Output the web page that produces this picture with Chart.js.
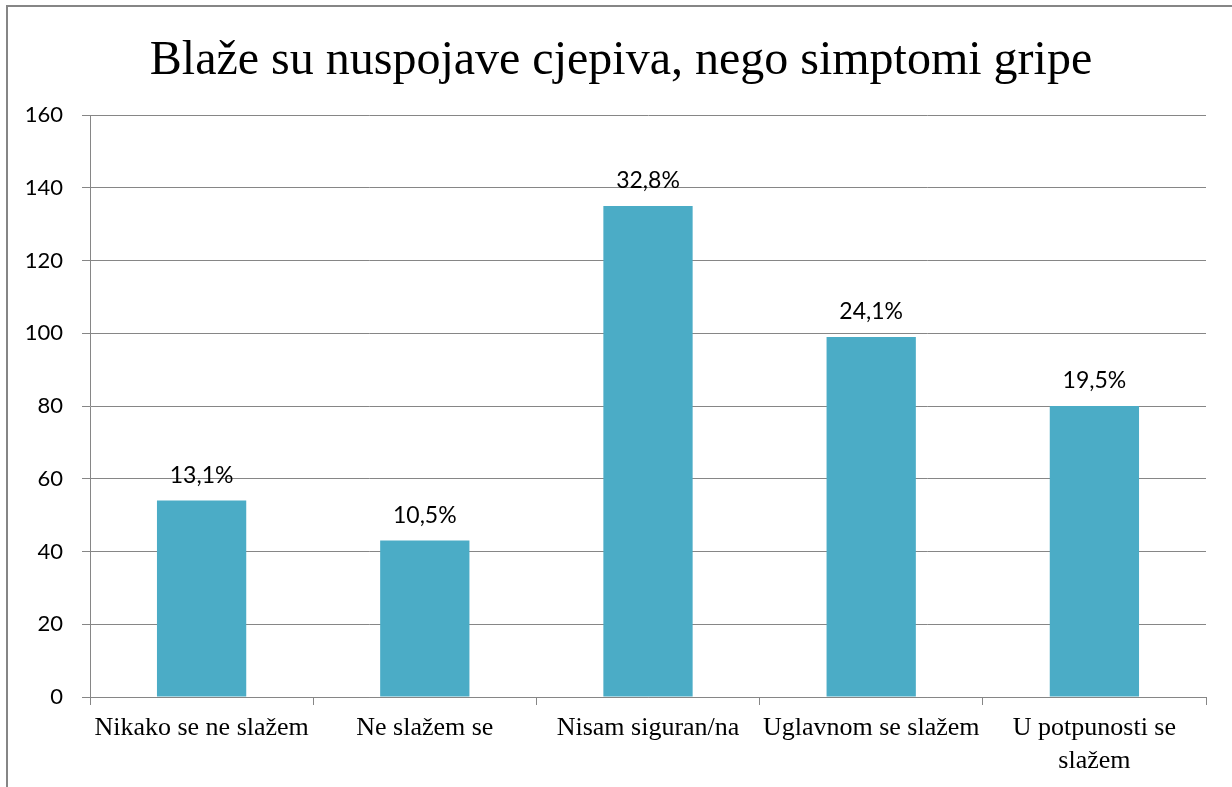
<!DOCTYPE html>
<html><head><meta charset="utf-8">
<script src="https://cdn.jsdelivr.net/npm/chart.js@4.4.1/dist/chart.umd.min.js"></script>
<style>html,body{margin:0;padding:0;background:#fff}#wrap{width:1232px;height:787px;position:relative}</style>
</head><body><div id="wrap"><canvas id="c" width="1232" height="787"></canvas></div>
<script>
const chartTitle = "Blaže su nuspojave cjepiva, nego simptomi gripe";
const categories = ["Nikako se ne slažem", "Ne slažem se", "Nisam siguran/na", "Uglavnom se slažem", ["U potpunosti se", "slažem"]];
const counts = [54, 43, 135, 99, 80];
const percentLabels = ["13,1%", "10,5%", "32,8%", "24,1%", "19,5%"];
const yTicks = [0, 20, 40, 60, 80, 100, 120, 140, 160];

const GRID = '#868686';
const decor = {
  id: 'decor',
  beforeDraw(chart) {
    const ctx = chart.ctx;
    ctx.save();
    ctx.fillStyle = '#fff';
    ctx.fillRect(0, 0, chart.width, chart.height);
    ctx.strokeStyle = '#868686';
    ctx.lineWidth = 2;
    ctx.strokeRect(7, 6, chart.width + 20, chart.height + 20);
    ctx.fillStyle = '#000';
    ctx.font = '48px "Liberation Serif"';
    ctx.textAlign = 'center';
    ctx.textBaseline = 'alphabetic';
    ctx.fillText(chartTitle, 621, 74);
    ctx.restore();
  },
  afterDatasetsDraw(chart) {
    const ctx = chart.ctx;
    const meta = chart.getDatasetMeta(0);
    ctx.save();
    ctx.fillStyle = '#000';
    ctx.font = '23px Lato';
    ctx.textAlign = 'center';
    ctx.textBaseline = 'middle';
    meta.data.forEach((bar, i) => {
      ctx.fillText(percentLabels[i], bar.x, bar.y - 25);
    });
    ctx.restore();
  }
};

new Chart(document.getElementById('c'), {
  type: 'bar',
  data: {
    labels: categories,
    datasets: [{ data: counts, backgroundColor: '#4BACC6', barPercentage: 0.4, categoryPercentage: 1.0 }]
  },
  options: {
    responsive: false,
    animation: false,
    devicePixelRatio: 1,
    layout: { padding: { top: 115, right: 26, left: 0, bottom: 0 } },
    plugins: { legend: { display: false }, title: { display: false }, tooltip: { enabled: false } },
    scales: {
      x: {
        offset: true,
        grid: { display: true, drawOnChartArea: false, drawTicks: true, tickLength: 8, color: GRID, offset: true },
        border: { display: true, color: GRID, width: 1 },
        ticks: { color: '#000', font: { family: 'Liberation Serif', size: 26, lineHeight: 1.25 }, padding: 7, maxRotation: 0, autoSkip: false },
        afterFit(s) { s.height = 787 - 697; }
      },
      y: {
        min: 0, max: 160,
        afterBuildTicks(s) { s.ticks = yTicks.map(v => ({ value: v })); },
        grid: { color: GRID, lineWidth: 1, drawTicks: true, tickLength: 8 },
        border: { display: true, color: GRID, width: 1 },
        ticks: { color: '#000', font: { family: 'Lato', size: 22 }, padding: 19 },
        afterFit(s) { s.width = 90; }
      }
    }
  },
  plugins: [decor]
});
</script></body></html>
